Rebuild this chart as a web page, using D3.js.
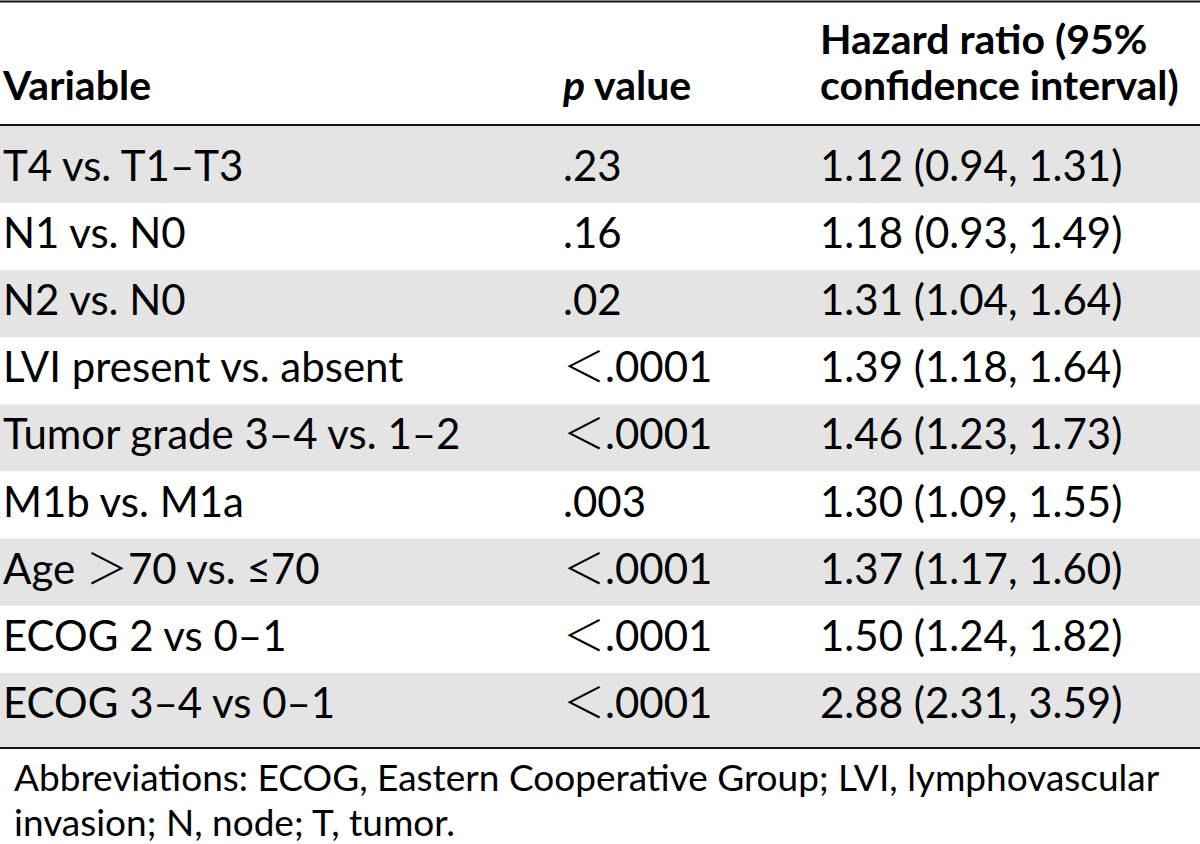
<!DOCTYPE html>
<html>
<head>
<meta charset="utf-8">
<script src="https://cdn.jsdelivr.net/npm/d3@7"></script>
<style>
  html, body { margin: 0; padding: 0; background: #fff; }
  svg { display: block; }
</style>
</head>
<body>
<svg id="chart" width="1200" height="844"></svg>
<script>
const variables = [
  "T4 vs. T1–T3",
  "N1 vs. N0",
  "N2 vs. N0",
  "LVI present vs. absent",
  "Tumor grade 3–4 vs. 1–2",
  "M1b vs. M1a",
  "Age \uFF1E70 vs. ≤70",
  "ECOG 2 vs 0–1",
  "ECOG 3–4 vs 0–1"
];
const pValues = [".23", ".16", ".02", "\uFF1C.0001", "\uFF1C.0001", ".003", "\uFF1C.0001", "\uFF1C.0001", "\uFF1C.0001"];
const hazardRatio = [1.12, 1.18, 1.31, 1.39, 1.46, 1.30, 1.37, 1.50, 2.88];
const ciLower = [0.94, 0.93, 1.04, 1.18, 1.23, 1.09, 1.17, 1.24, 2.31];
const ciUpper = [1.31, 1.49, 1.64, 1.64, 1.73, 1.55, 1.60, 1.82, 3.59];
const headers = ["Variable", "p value", "Hazard ratio (95% confidence interval)"];
const footnote = [
  "Abbreviations: ECOG, Eastern Cooperative Group; LVI, lymphovascular",
  "invasion; N, node; T, tumor."
];

const FONT = "Lato, 'Open Sans', sans-serif";
const CJK = "'Noto Sans CJK SC', 'Noto Sans CJK JP', sans-serif";
const svg = d3.select("#chart");
const W = 1200;

const rows = variables.map((v, i) => ({
  variable: v,
  p: pValues[i],
  hr: `${hazardRatio[i].toFixed(2)} (${ciLower[i].toFixed(2)}, ${ciUpper[i].toFixed(2)})`
}));

const colX = d3.scaleOrdinal().domain(["variable", "p", "hr"]).range([3, 563, 820]);
const y = d3.scaleBand().domain(d3.range(rows.length)).range([136, 740]).paddingInner(0).paddingOuter(0);

const headTop = 126, tableBottom = 747;

// row backgrounds
svg.append("g").selectAll("rect").data(rows).join("rect")
  .attr("x", 0)
  .attr("width", W)
  .attr("y", (d, i) => i === 0 ? headTop : y(i))
  .attr("height", (d, i) => {
    const top = i === 0 ? headTop : y(i);
    const bot = i === rows.length - 1 ? tableBottom : y(i) + y.bandwidth();
    return bot - top;
  })
  .attr("fill", (d, i) => i % 2 === 0 ? "#e4e4e4" : "#ffffff");

// rules
const rules = [1.5, 125, 748];
svg.append("g").selectAll("line").data(rules).join("line")
  .attr("x1", 0).attr("x2", W)
  .attr("y1", d => d).attr("y2", d => d)
  .attr("stroke", "#111").attr("stroke-width", 2.2);

// header
const hg = svg.append("g").attr("font-family", FONT).attr("font-weight", "bold").attr("font-size", 41).attr("fill", "#000");
hg.append("text").attr("x", colX("variable")).attr("y", 100).text(headers[0]);
const pt = hg.append("text").attr("x", colX("p")).attr("y", 100);
pt.append("tspan").attr("font-style", "italic").text("p");
pt.append("tspan").text(" value");
hg.append("text").attr("x", colX("hr")).attr("y", 54).text("Hazard ratio (95%");
hg.append("text").attr("x", colX("hr")).attr("y", 100).text("confidence interval)");

// text with full-width comparison signs rendered in a CJK font
function richText(sel, accessor) {
  sel.each(function(d) {
    const t = d3.select(this);
    const parts = accessor(d).split(/([\uFF1C\uFF1E])/).filter(s => s.length);
    parts.forEach(p => {
      const ts = t.append("tspan").text(p);
      if (/[\uFF1C\uFF1E]/.test(p)) ts.attr("font-family", CJK).attr("font-weight", 300);
    });
  });
}

// body
const bg = svg.append("g").attr("font-family", FONT).attr("font-size", 42).attr("fill", "#000");
const rowG = bg.selectAll("g").data(rows).join("g")
  .attr("transform", (d, i) => `translate(0, ${y(i) + 45})`);
rowG.append("text").attr("x", colX("variable")).call(richText, d => d.variable);
rowG.append("text").attr("x", colX("p")).call(richText, d => d.p);
rowG.append("text").attr("x", colX("hr")).text(d => d.hr);

// footnote
svg.append("g").attr("font-family", FONT).attr("font-size", 37).attr("fill", "#000")
  .selectAll("text").data(footnote).join("text")
  .attr("x", 14).attr("y", (d, i) => 791 + i * 45).text(d => d);
</script>
</body>
</html>
